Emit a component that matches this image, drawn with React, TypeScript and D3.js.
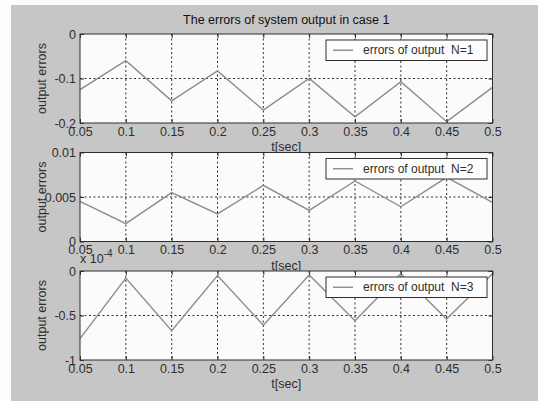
import { useEffect, useRef } from 'react';
import * as d3 from 'd3';

const W = 538;
const H = 401;

// sample times (x) and x tick labels
const times = [0.05, 0.1, 0.15, 0.2, 0.25, 0.3, 0.35, 0.4, 0.45, 0.5];
const xTicks = [0.05, 0.1, 0.15, 0.2, 0.25, 0.3, 0.35, 0.4, 0.45, 0.5];

// errors of output
const errN1 = [-0.125, -0.06, -0.15, -0.083, -0.171, -0.1, -0.186, -0.107, -0.197, -0.12];
const errN2 = [0.0045, 0.002, 0.0055, 0.0031, 0.0063, 0.0035, 0.0068, 0.0039, 0.0072, 0.0044];
const errN3 = [-0.76e-4, -0.08e-4, -0.67e-4, -0.05e-4, -0.61e-4, -0.045e-4, -0.56e-4, -0.03e-4, -0.54e-4, -0.03e-4];

const yTicksN1 = [-0.2, -0.1, 0];
const yTicksN2 = [0, 0.005, 0.01];
const yTicksN3 = [-1e-4, -0.5e-4, 0];

const legendLabels = ['errors of output  N=1', 'errors of output  N=2', 'errors of output  N=3'];

const FONT = '"Liberation Sans", Arial, sans-serif';
const BG = '#c6c6c6';
const INK = '#2e2e2e';
const LINE = '#8c8c8c';

export default function App() {
  const svgRef = useRef<SVGSVGElement>(null);

  useEffect(() => {
    if (!svgRef.current) return;
    const svg = d3.select(svgRef.current);
    svg.selectAll('*').remove();

    svg.append('rect').attr('width', W).attr('height', H).attr('fill', '#fdfdfd');
    svg.append('rect').attr('x', 11).attr('y', 5).attr('width', W - 11).attr('height', H - 5).attr('fill', BG);

    const left = 80;
    const right = 492.5;
    const ph = 89;
    const tops = [34, 152.5, 271];

    const panels = [
      { values: errN1, domain: [-0.2, 0], ticks: yTicksN1, fmt: (d: number) => String(d), label: legendLabels[0] },
      { values: errN2, domain: [0, 0.01], ticks: yTicksN2, fmt: (d: number) => String(d), label: legendLabels[1] },
      { values: errN3, domain: [-1e-4, 0], ticks: yTicksN3, fmt: (d: number) => String(+(d / 1e-4).toFixed(2)), label: legendLabels[2] },
    ];

    const x = d3.scaleLinear().domain([0.05, 0.5]).range([left, right]);

    svg.append('text')
      .attr('x', (left + right) / 2)
      .attr('y', 24)
      .attr('text-anchor', 'middle')
      .style('font-family', FONT)
      .style('font-size', '12.5px')
      .attr('fill', '#111')
      .text('The errors of system output in case 1');

    panels.forEach((p, i) => {
      const top = tops[i];
      const bottom = top + ph;
      const y = d3.scaleLinear().domain(p.domain).range([bottom, top]);
      const g = svg.append('g');

      g.append('rect')
        .attr('x', left).attr('y', top)
        .attr('width', right - left).attr('height', ph)
        .attr('fill', '#fbfbfb');

      // grid
      g.append('g').selectAll('line')
        .data(xTicks.slice(1, -1))
        .join('line')
        .attr('x1', (d) => x(d)).attr('x2', (d) => x(d))
        .attr('y1', top).attr('y2', bottom)
        .attr('stroke', INK).attr('stroke-dasharray', '2,2.5');
      g.append('g').selectAll('line')
        .data(p.ticks.slice(1, -1))
        .join('line')
        .attr('x1', left).attr('x2', right)
        .attr('y1', (d) => y(d)).attr('y2', (d) => y(d))
        .attr('stroke', INK).attr('stroke-dasharray', '2,2.5');

      // series
      const line = d3.line<number>()
        .x((_, j) => x(times[j]))
        .y((d) => y(d));
      g.append('path')
        .datum(p.values)
        .attr('fill', 'none')
        .attr('stroke', LINE)
        .attr('stroke-width', 1.4)
        .attr('d', line);

      // axes, ticks inside
      const ax = (sel: d3.Selection<SVGGElement, unknown, null, undefined>) => {
        sel.select('.domain').remove();
        sel.selectAll('.tick line').attr('stroke', INK);
        sel.selectAll('.tick text')
          .attr('fill', INK)
          .style('font-family', FONT)
          .style('font-size', '12.5px');
      };
      g.append('g')
        .attr('transform', `translate(0,${bottom})`)
        .call(d3.axisBottom(x).tickValues(xTicks).tickSize(-4).tickPadding(4).tickFormat((d) => String(d)))
        .call(ax);
      g.append('g')
        .attr('transform', `translate(0,${top})`)
        .call(d3.axisTop(x).tickValues(xTicks).tickSize(-4).tickFormat(() => ''))
        .call(ax);
      g.append('g')
        .attr('transform', `translate(${left},0)`)
        .call(d3.axisLeft(y).tickValues(p.ticks).tickSize(-4).tickPadding(4).tickFormat((d) => p.fmt(+d)))
        .call(ax);
      g.append('g')
        .attr('transform', `translate(${right},0)`)
        .call(d3.axisRight(y).tickValues(p.ticks).tickSize(-4).tickFormat(() => ''))
        .call(ax);

      g.append('rect')
        .attr('x', left).attr('y', top)
        .attr('width', right - left).attr('height', ph)
        .attr('fill', 'none').attr('stroke', INK).attr('stroke-width', 1);

      // y label
      g.append('text')
        .attr('transform', `translate(46,${(top + bottom) / 2}) rotate(-90)`)
        .attr('text-anchor', 'middle')
        .style('font-family', FONT)
        .style('font-size', '12.5px')
        .attr('fill', INK)
        .text('output errors');

      // legend
      const lx = 326;
      const lw = 161;
      const ly = top + 6;
      const lh = 20.5;
      g.append('rect')
        .attr('x', lx).attr('y', ly).attr('width', lw).attr('height', lh)
        .attr('fill', '#fdfdfd').attr('stroke', INK);
      g.append('line')
        .attr('x1', lx + 7).attr('x2', lx + 27)
        .attr('y1', ly + lh / 2).attr('y2', ly + lh / 2)
        .attr('stroke', LINE).attr('stroke-width', 1.4);
      g.append('text')
        .attr('x', lx + 37)
        .attr('y', ly + lh / 2 + 4.2)
        .style('font-family', FONT)
        .style('font-size', '12px')
        .style('white-space', 'pre')
        .attr('fill', INK)
        .text(p.label);

      if (i === 2) {
        const ex = g.append('text')
          .attr('x', left)
          .attr('y', top - 8)
          .style('font-family', FONT)
          .style('font-size', '12.5px')
          .attr('fill', INK);
        ex.append('tspan').text('x 10');
        ex.append('tspan').attr('dy', -6).style('font-size', '10px').text('-4');
      }

      // x label, later panels paint over it
      g.append('text')
        .attr('x', (left + right) / 2)
        .attr('y', bottom + 28)
        .attr('text-anchor', 'middle')
        .style('font-family', FONT)
        .style('font-size', '12.5px')
        .attr('fill', INK)
        .text('t[sec]');
    });
  }, []);

  return (
    <svg
      ref={svgRef}
      width={W}
      height={H}
      style={{ position: 'absolute', left: 0, top: 0 }}
    />
  );
}
